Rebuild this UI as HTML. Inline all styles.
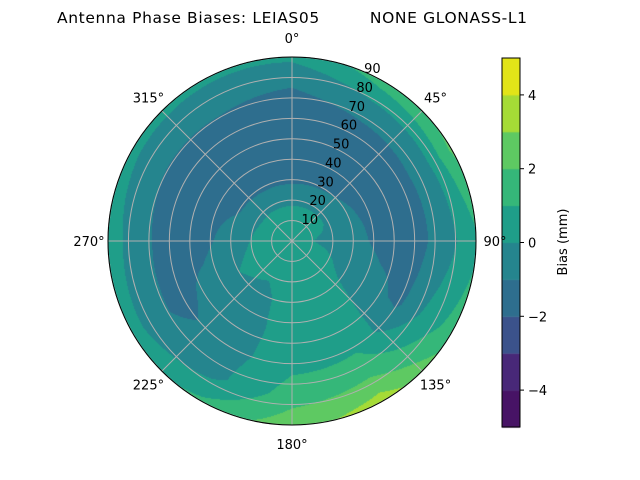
<!DOCTYPE html>
<html><head><meta charset="utf-8">
<style>
body{margin:0;background:#fff;width:640px;height:480px;overflow:hidden;font-family:"DejaVu Sans","Liberation Sans",sans-serif;}
#wrap{position:relative;width:640px;height:480px;}
canvas,svg{position:absolute;left:0;top:0;}
svg text{font-family:"DejaVu Sans","Liberation Sans",sans-serif;}
</style></head><body>
<div id="wrap">
<canvas id="cv" width="640" height="480"></canvas>
<svg id="sv" width="640" height="480"></svg>
</div>
<script>
// data: bias values (mm) at azimuth nodes (deg) x zenith nodes (deg)
const azimuths=[0,30,60,90,120,150,180,210,240,270,300,330];
const zeniths=[0,15,30,45,60,75,90];
const biasAz0=[0.5,0.2,-1.2,-1.5,-1.5,-1.0,0.2];
const biasAz30=[0.5,0.2,-1.1,-1.5,-1.5,-0.5,1.5];
const biasAz60=[0.5,0.2,-0.9,-1.4,-1.4,-0.3,2.2];
const biasAz90=[0.5,-0.2,-0.7,-1.3,-1.4,-0.5,0.8];
const biasAz120=[0.5,0.4,-0.3,-0.7,-1.2,0.3,1.5];
const biasAz150=[0.5,0.5,0.6,0.6,0.8,1.8,3.5];
const biasAz180=[0.5,0.5,0.5,0.5,0.7,1.5,2.6];
const biasAz210=[0.5,0.3,-0.3,-0.4,-0.4,-0.3,1.2];
const biasAz240=[0.5,0.4,0.0,-0.6,-1.3,-0.8,0.5];
const biasAz270=[0.5,0.3,-0.5,-1.4,-1.5,-0.6,0.6];
const biasAz300=[0.5,0.2,-1.1,-1.5,-1.5,-0.8,0.3];
const biasAz330=[0.5,0.2,-1.2,-1.5,-1.5,-0.8,0.2];
const levels=[-5,-4,-3,-2,-1,0,1,2,3,4,5];
const colorbarTicks=[-4,-2,0,2,4];
const radialTicks=[10,20,30,40,50,60,70,80,90];
const angleTicks=[0,45,90,135,180,225,270,315];
const title="Antenna Phase Biases: LEIAS05         NONE GLONASS-L1";

const grid=[biasAz0,biasAz30,biasAz60,biasAz90,biasAz120,biasAz150,biasAz180,biasAz210,biasAz240,biasAz270,biasAz300,biasAz330];
const colors=["#471365","#482878","#3b528b","#2e6e8e","#25858e","#1f9e89","#35b779","#5ec962","#a5db36","#e2e418"];
const cx=292,cy=241,R=184,rMax=90;
const rScale=r=>r/rMax*R;
function bandColor(v){let i=Math.floor(v-levels[0]);i=Math.max(0,Math.min(colors.length-1,i));return colors[i];}
function valueAt(az,zen){
  const n=azimuths.length,step=360/n;
  const fa=az/step,i0=Math.floor(fa)%n,i1=(i0+1)%n,ta=fa-Math.floor(fa);
  const zs=zeniths[1]-zeniths[0];
  let fz=Math.min(zen/zs,zeniths.length-1.0001);const j0=Math.floor(fz),j1=j0+1,tz=fz-j0;
  const a=grid[i0][j0]*(1-tz)+grid[i0][j1]*tz;
  const b=grid[i1][j0]*(1-tz)+grid[i1][j1]*tz;
  return a*(1-ta)+b*ta;
}
const cv=document.getElementById('cv');const ctx=cv.getContext('2d');
for(let y=cy-R;y<=cy+R;y++){for(let x=cx-R;x<=cx+R;x++){
  const dx=x+0.5-cx,dy=y+0.5-cy,d=Math.sqrt(dx*dx+dy*dy);if(d>R)continue;
  let az=Math.atan2(dx,-dy)*180/Math.PI;if(az<0)az+=360;
  ctx.fillStyle=bandColor(valueAt(az,d/R*rMax));ctx.fillRect(x,y,1,1);
}}
// colorbar
const cbX=502,cbW=18,cbTop=58,cbBot=427;
const cbY=v=>cbBot-(v-levels[0])/(levels[levels.length-1]-levels[0])*(cbBot-cbTop);
for(let k=0;k<levels.length-1;k++){ctx.fillStyle=colors[k];ctx.fillRect(cbX,cbY(levels[k+1]),cbW,cbY(levels[k])-cbY(levels[k+1])+0.5);}
const NS='http://www.w3.org/2000/svg';const sv=document.getElementById('sv');
function el(t,a,txt){const e=document.createElementNS(NS,t);for(const k in a)e.setAttribute(k,a[k]);if(txt!=null)e.textContent=txt;sv.appendChild(e);return e;}
for(const r of radialTicks){const c=el('circle',{cx:cx,cy:cy,r:rScale(r),fill:'none',stroke:'#b0b0b0','stroke-width':1});

}
for(const a of angleTicks){const rad=a*Math.PI/180;const l=el('line',{x1:cx,y1:cy,x2:cx+R*Math.sin(rad),y2:cy-R*Math.cos(rad),stroke:'#b0b0b0','stroke-width':1});


const lr=R+19;const t=el('text',{x:cx+lr*Math.sin(rad),y:cy-lr*Math.cos(rad)+5,'text-anchor':'middle','font-size':13,fill:'#000'},a+'°');

}
const oc=el('circle',{cx:cx,cy:cy,r:R,fill:'none',stroke:'#000','stroke-width':1});


const ra=22.5*Math.PI/180;
for(const r of radialTicks){const d=rScale(r);const t=el('text',{x:cx+d*Math.sin(ra)+10,y:cy-d*Math.cos(ra)+2,'text-anchor':'middle','font-size':13,fill:'#000'},String(r));

}
const cb=el('rect',{x:cbX,y:cbTop,width:cbW,height:cbBot-cbTop,fill:'none',stroke:'#000','stroke-width':1});


for(const v of colorbarTicks){const y=cbY(v);const l=el('line',{x1:cbX+cbW,x2:cbX+cbW+4,y1:y,y2:y,stroke:'#000'});


const t=el('text',{x:cbX+cbW+8,y:y+5,'font-size':13,fill:'#000'},v<0?'\u2212'+Math.abs(v):String(v));

}
const cl=el('text',{x:567,y:242,'font-size':13,'text-anchor':'middle',transform:'rotate(-90 567 242)',fill:'#000'},'Bias (mm)');


const tt=el('text',{x:57,y:23,'font-size':15.5,textLength:470,lengthAdjust:'spacing',fill:'#000','xml:space':'preserve'},title);
tt.setAttribute('style','white-space:pre');


</script>
</body></html>
